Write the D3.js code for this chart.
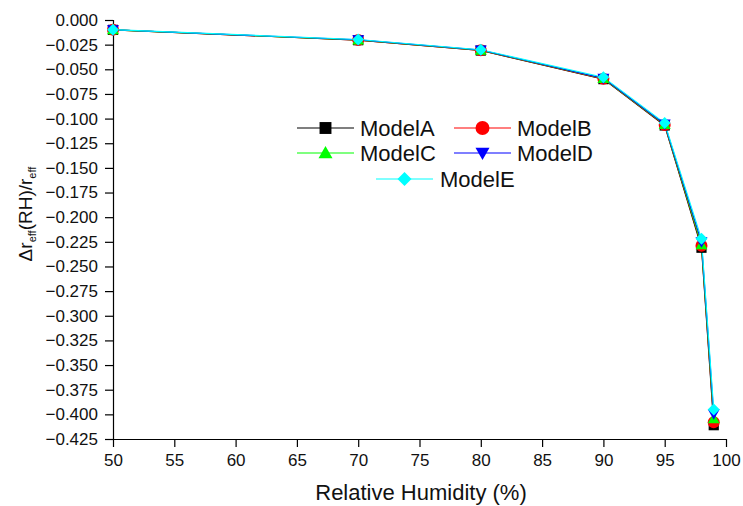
<!DOCTYPE html>
<html>
<head>
<meta charset="utf-8">
<script src="https://cdn.jsdelivr.net/npm/d3@7"></script>
<style>
  html, body { margin: 0; padding: 0; background: #fff; }
  svg { display: block; font-family: "Liberation Sans", Arial, Helvetica, sans-serif; }
</style>
</head>
<body>
<svg id="chart" width="743" height="506"></svg>
<script>
// ---- data ----
const humidity = [50, 70, 80, 90, 95, 98, 99];
const modelA = [-0.0100, -0.0205, -0.0310, -0.0600, -0.1070, -0.2310, -0.4110];
const modelB = [-0.0100, -0.0204, -0.0308, -0.0597, -0.1065, -0.2290, -0.4080];
const modelC = [-0.0100, -0.0203, -0.0307, -0.0594, -0.1060, -0.2280, -0.4045];
const modelD = [-0.0099, -0.0201, -0.0305, -0.0590, -0.1055, -0.2250, -0.3995];
const modelE = [-0.0098, -0.0198, -0.0302, -0.0580, -0.1045, -0.2220, -0.3950];
const seriesNames = ["ModelA", "ModelB", "ModelC", "ModelD", "ModelE"];
const xTicks = [50, 55, 60, 65, 70, 75, 80, 85, 90, 95, 100];
const yTicks = [0, -0.025, -0.05, -0.075, -0.1, -0.125, -0.15, -0.175, -0.2, -0.225, -0.25,
                -0.275, -0.3, -0.325, -0.35, -0.375, -0.4, -0.425];

const seriesValues = [modelA, modelB, modelC, modelD, modelE];
const colors = ["#000000", "#ff0000", "#00ff00", "#0000ff", "#00ffff"];
const symbolKinds = ["square", "circle", "triUp", "triDown", "diamond"];

const svg = d3.select("#chart");
const x = d3.scaleLinear().domain([50, 100]).range([113, 726]);
const y = d3.scaleLinear().domain([-0.425, 0]).range([439, 20]);

// marker path centred at 0,0 with nominal width w
function symPath(kind, w) {
  const h = w / 2;
  const p = d3.path();
  if (kind === "square") { p.rect(-h * 0.85, -h * 0.85, w * 0.85, w * 0.85); }
  else if (kind === "circle") { p.arc(0, 0, h, 0, 2 * Math.PI); }
  else if (kind === "triUp") { p.moveTo(0, -h); p.lineTo(h, h * 0.75); p.lineTo(-h, h * 0.75); p.closePath(); }
  else if (kind === "triDown") { p.moveTo(0, h); p.lineTo(h, -h * 0.75); p.lineTo(-h, -h * 0.75); p.closePath(); }
  else { p.moveTo(0, -h); p.lineTo(h, 0); p.lineTo(0, h); p.lineTo(-h, 0); p.closePath(); }
  return p.toString();
}

// ---- axes ----
const minorX = d3.range(50, 100.001, 1).filter(v => v % 5 !== 0);
const minorY = d3.range(0, 86).map(k => -k * 0.005).filter((v, k) => k % 5 !== 0);

const gx = svg.append("g").attr("class", "xaxis").attr("transform", "translate(0,439)");
gx.call(d3.axisBottom(x).tickValues(minorX).tickSize(5).tickFormat(""));
gx.call(d3.axisBottom(x).tickValues(xTicks).tickSize(8).tickFormat(d3.format("d")));
gx.selectAll("text").attr("font-size", 17).attr("fill", "#111").attr("y", 15).attr("dy", "0.71em")
  .attr("font-family", "Liberation Sans, Arial, sans-serif");

const gy = svg.append("g").attr("class", "yaxis").attr("transform", "translate(113,0)");
gy.call(d3.axisLeft(y).tickValues(minorY).tickSize(5).tickFormat(""));
gy.call(d3.axisLeft(y).tickValues(yTicks).tickSize(8).tickFormat(d3.format(".3f")));
gy.selectAll("text").attr("font-size", 17).attr("fill", "#111").attr("x", -15)
  .attr("font-family", "Liberation Sans, Arial, sans-serif");

gx.selectAll(".domain").attr("d", "M113,0.5H726");
gy.selectAll(".domain").attr("d", "M0.5,20V439");
svg.selectAll(".domain").attr("stroke", "#000").attr("stroke-width", 1.2);
svg.selectAll(".tick line").attr("stroke", "#000").attr("stroke-width", 1.2);

// ---- series ----
const line = d3.line().x((d, k) => x(humidity[k])).y(d => y(d));
seriesValues.forEach((vals, i) => {
  svg.append("path").datum(vals).attr("d", line)
    .attr("fill", "none").attr("stroke", colors[i]).attr("stroke-width", 1.1);
});
seriesValues.forEach((vals, i) => {
  svg.append("g").selectAll("path").data(vals).join("path")
    .attr("d", symPath(symbolKinds[i], 12))
    .attr("transform", (d, k) => `translate(${x(humidity[k])},${y(d)})`)
    .attr("fill", colors[i]);
});

// ---- legend ----
const legendItems = [
  { i: 0, lx: 297, ly: 128, tx: 360 },
  { i: 1, lx: 454, ly: 128, tx: 517 },
  { i: 2, lx: 297, ly: 153, tx: 360 },
  { i: 3, lx: 454, ly: 153, tx: 517 },
  { i: 4, lx: 376, ly: 179, tx: 440 }
];
const lg = svg.append("g");
legendItems.forEach(it => {
  lg.append("line").attr("x1", it.lx).attr("x2", it.lx + 57).attr("y1", it.ly).attr("y2", it.ly)
    .attr("stroke", colors[it.i]).attr("stroke-width", 1.1);
  lg.append("path").attr("d", symPath(symbolKinds[it.i], 14))
    .attr("transform", `translate(${it.lx + 28.5},${it.ly})`).attr("fill", colors[it.i]);
  lg.append("text").attr("x", it.tx).attr("y", it.ly + 7.5).attr("font-size", 22)
    .attr("fill", "#111").text(seriesNames[it.i]);
});

// ---- axis titles ----
svg.append("text").attr("x", 421).attr("y", 500).attr("text-anchor", "middle")
  .attr("font-size", 22).attr("fill", "#111").text("Relative Humidity (%)");

const yt = svg.append("text").attr("transform", "translate(32,214) rotate(-90)")
  .attr("text-anchor", "middle").attr("font-size", 19).attr("fill", "#111");
yt.append("tspan").text("\u0394r");
yt.append("tspan").attr("font-size", 11).attr("dy", 4).text("eff");
yt.append("tspan").attr("dy", -4).text("(RH)/r");
yt.append("tspan").attr("font-size", 11).attr("dy", 4).text("eff");
</script>
</body>
</html>
